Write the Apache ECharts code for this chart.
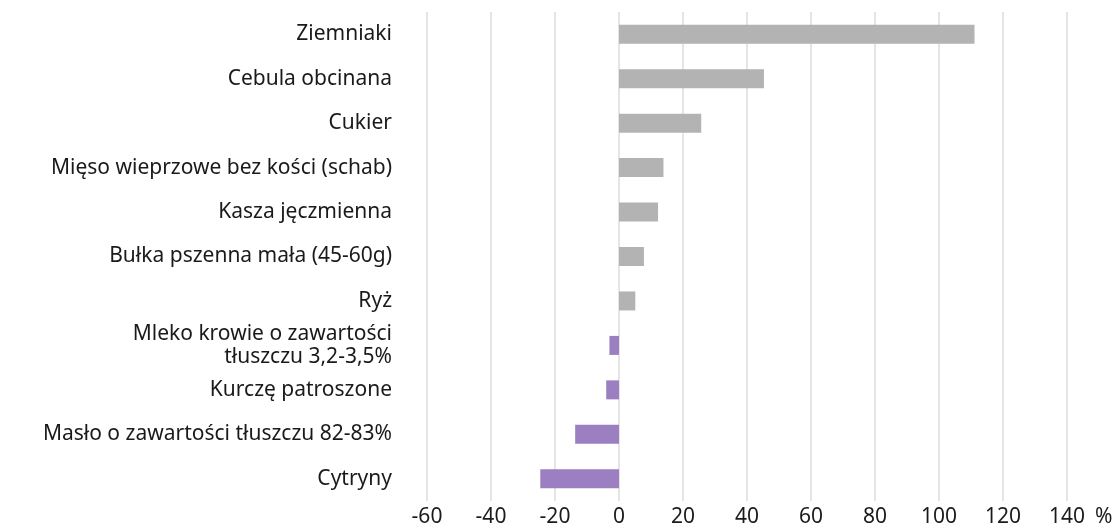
<!DOCTYPE html>
<html>
<head>
<meta charset="utf-8">
<script src="https://cdn.jsdelivr.net/npm/echarts@6/dist/echarts.min.js"></script>
<style>
  html, body { margin: 0; padding: 0; background: #fff; }
  #chart { width: 1118px; height: 528px; }
</style>
</head>
<body>
<div id="chart"></div>
<script>
// kategorie od dołu do góry (oś kategorii rośnie w górę)
const categories = [
    'Cytryny',
    'Masło o zawartości tłuszczu 82-83%',
    'Kurczę patroszone',
    'Mleko krowie o zawartości\ntłuszczu 3,2-3,5%',
    'Ryż',
    'Bułka pszenna mała (45-60g)',
    'Kasza jęczmienna',
    'Mięso wieprzowe bez kości (schab)',
    'Cukier',
    'Cebula obcinana',
    'Ziemniaki'
]
const values = [-24.6, -13.7, -4.0, -3.0, 5.1, 7.8, 12.2, 13.9, 25.7, 45.3, 111.1]
const xTicks = { min: -60, max: 140, step: 20 }

const chart = echarts.init(document.getElementById('chart'))
const font = 'Noto Sans'
const textColor = '#1a1a1a'

chart.setOption({
    animation: false,
    grid: {
        left: 427,
        right: 51,
        top: 12,
        bottom: 25,
        containLabel: false
    },
    xAxis: {
        type: 'value',
        min: xTicks.min,
        max: xTicks.max,
        interval: xTicks.step,
        name: '%',
        nameLocation: 'end',
        nameGap: 28,
        nameTextStyle: {
            fontFamily: font,
            fontSize: 21,
            color: textColor,
            verticalAlign: 'top',
            padding: [6, 0, 0, 0]
        },
        axisLine: { show: false },
        axisTick: { show: false },
        axisLabel: {
            margin: 6,
            fontFamily: font,
            fontSize: 21,
            color: textColor
        },
        splitLine: { show: true, lineStyle: { color: '#dcdcdc', width: 1.5 } }
    },
    yAxis: {
        type: 'category',
        data: categories,
        axisLine: { show: false },
        axisTick: { show: false },
        axisLabel: {
            margin: 35,
            fontFamily: font,
            fontSize: 21,
            lineHeight: 23,
            color: textColor,
            align: 'right'
        }
    },
    series: [{
        type: 'bar',
        data: values,
        barWidth: 19,
        itemStyle: {
            color: p => (p.value < 0 ? '#9b7fc1' : '#b3b3b3')
        }
    }]
})
</script>
</body>
</html>
